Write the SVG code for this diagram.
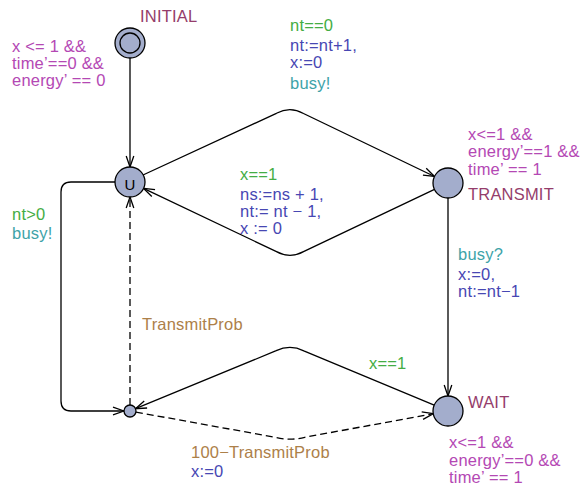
<svg xmlns="http://www.w3.org/2000/svg" width="583" height="490" viewBox="0 0 583 490">
<style>
text{font-family:"Liberation Sans",Arial,sans-serif;font-size:16.5px;letter-spacing:0.2px}
.loc{fill:#a3adcc;stroke:#000;stroke-width:1.3}
.e{fill:none;stroke:#000;stroke-width:1.3}
.d{stroke-dasharray:7,4}
.nm{fill:#953d6b}
.inv{fill:#b448b4}
.g{fill:#44ad44}
.a{fill:#4747b3}
.s{fill:#3ea3a8}
.p{fill:#ad8049}
</style>
<defs>
<marker id="arr" viewBox="-12 -5 13 10" refX="0" refY="0" markerWidth="13" markerHeight="10" markerUnits="userSpaceOnUse" orient="auto">
<path d="M-11,-3.8 L0,0 L-11,3.8" fill="none" stroke="#000" stroke-width="1.3"/>
</marker>
</defs>
<g id="connectors">
<path class="e" d="M130,58 V167" marker-end="url(#arr)"/>
<path class="e" d="M143,175 L276.4,113.3 Q290,106 303.5,113.5 L434.5,176.5" marker-end="url(#arr)"/>
<path class="e" d="M434.5,189.4 L303.5,251.6 Q290,259 276.5,251.6 L143.5,188.4" marker-end="url(#arr)"/>
<path class="e" d="M448,198 V396" marker-end="url(#arr)"/>
<path class="e" d="M434.2,405.2 L303.8,350.8 Q290,344 276.2,350.7 L135.5,408.7" marker-end="url(#arr)"/>
<path class="e" d="M115,182 H71 Q61,182 61,192 V401 Q61,411 71,411 H124" marker-end="url(#arr)"/>
<path class="e d" d="M130,405 V197" marker-end="url(#arr)"/>
<path class="e d" d="M135.9,412.1 L275.2,437.3 Q290,441 304.8,437.3 L433.2,413.7" marker-end="url(#arr)"/>
<text x="290" y="31" class="g">nt==0</text>
<text x="290" y="51" class="a">nt:=nt+1,</text>
<text x="290" y="68" class="a">x:=0</text>
<text x="290" y="89" class="s">busy!</text>
<text x="240" y="180" class="g">x==1</text>
<text x="240" y="200" class="a">ns:=ns + 1,</text>
<text x="240" y="217" class="a">nt:= nt − 1,</text>
<text x="240" y="234" class="a">x := 0</text>
<text x="458" y="260" class="s">busy?</text>
<text x="458" y="280" class="a">x:=0,</text>
<text x="458" y="297" class="a">nt:=nt−1</text>
<text x="369" y="369" class="g">x==1</text>
<text x="12" y="220" class="g">nt&gt;0</text>
<text x="12" y="239" class="s">busy!</text>
<text x="142" y="330" class="p">TransmitProb</text>
<text x="191" y="458" class="p">100−TransmitProb</text>
<text x="191" y="477" class="a">x:=0</text>
</g>
<g id="INITIAL">
<circle class="loc" cx="130" cy="43" r="15"/>
<circle cx="130" cy="43" r="10" fill="none" stroke="#000" stroke-width="1.3"/>
<text x="140" y="22" class="nm">INITIAL</text>
<text x="12" y="52" class="inv">x &lt;= 1 &amp;&amp;</text>
<text x="12" y="69" class="inv">time’==0 &amp;&amp;</text>
<text x="12" y="86" class="inv">energy’ == 0</text>
</g>
<g id="urgent">
<circle class="loc" cx="130" cy="182" r="15"/>
<text x="130" y="189.5" text-anchor="middle" style="font-size:15px;letter-spacing:0" fill="#000">U</text>
</g>
<g id="TRANSMIT">
<circle class="loc" cx="448" cy="183" r="15"/>
<text x="468" y="200" class="nm">TRANSMIT</text>
<text x="468" y="140" class="inv">x&lt;=1 &amp;&amp;</text>
<text x="468" y="157" class="inv">energy’==1 &amp;&amp;</text>
<text x="468" y="175" class="inv">time’ == 1</text>
</g>
<g id="WAIT">
<circle class="loc" cx="448" cy="411" r="15"/>
<text x="468" y="408" class="nm">WAIT</text>
<text x="449" y="448" class="inv">x&lt;=1 &amp;&amp;</text>
<text x="449" y="466" class="inv">energy’==0 &amp;&amp;</text>
<text x="449" y="483" class="inv">time’ == 1</text>
</g>
<g id="branch">
<circle class="loc" cx="130" cy="411" r="6"/>
</g>
</svg>
